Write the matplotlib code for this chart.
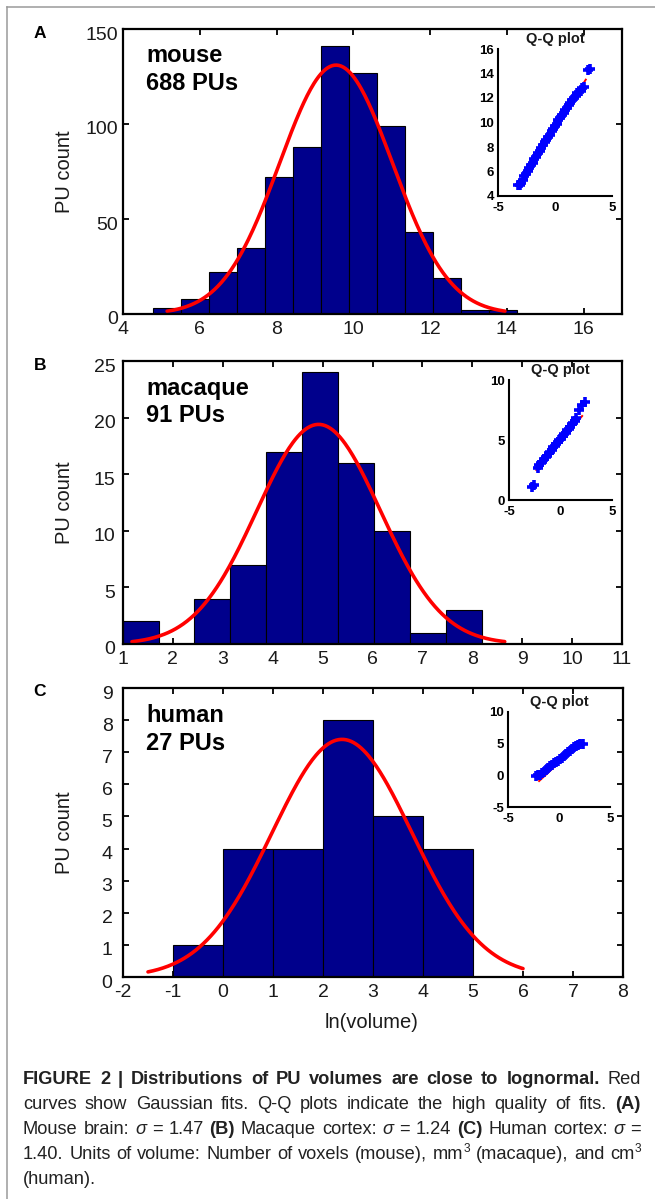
import matplotlib
matplotlib.use('Agg')
import matplotlib.pyplot as plt
import matplotlib.transforms as mtransforms
from matplotlib.lines import Line2D
import numpy as np
import logging
logging.getLogger('matplotlib.font_manager').setLevel(logging.ERROR)

W, H = 655, 1199
plt.rcParams['font.family'] = ['Liberation Sans', 'DejaVu Sans']
plt.rcParams['axes.unicode_minus'] = False

# ---------------- data ----------------
mouse_edges = [4.77, 5.50, 6.23, 6.96, 7.69, 8.42, 9.15, 9.88, 10.61, 11.34, 12.07, 12.80, 13.53, 14.26]
mouse_counts = [3, 8, 22, 35, 72, 88, 141, 127, 99, 43, 19, 2, 2]
macaque_edges = [1.0, 1.72, 2.43, 3.15, 3.87, 4.59, 5.31, 6.03, 6.75, 7.47, 8.19]
macaque_counts = [2, 0, 4, 7, 17, 24, 16, 10, 1, 3]
human_edges = [-1, 0, 1, 2, 3, 4, 5]
human_counts = [1, 4, 4, 8, 5, 4]

# Gaussian fits: mean, sigma, peak height, x-range of drawn curve
mouse_fit = dict(mu=9.55, sigma=1.47, peak=131, xmin=5.15, xmax=13.95)
macaque_fit = dict(mu=4.92, sigma=1.24, peak=19.4, xmin=1.18, xmax=8.65)
human_fit = dict(mu=2.38, sigma=1.40, peak=7.4, xmin=-1.5, xmax=6.0)

mouse_xticks = [4, 6, 8, 10, 12, 14, 16]
mouse_yticks = [0, 50, 100, 150]
macaque_xticks = list(range(1, 12))
macaque_yticks = [0, 5, 10, 15, 20, 25]
human_xticks = list(range(-2, 9))
human_yticks = list(range(0, 10))

species_names = ['mouse', 'macaque', 'human']
species_counts = ['688 PUs', '91 PUs', '27 PUs']
panel_letters = ['A', 'B', 'C']

# Q-Q plot points (theoretical quantile, sample quantile)
qq_mouse_x = [-3.25, -3.05, -2.95, -2.85, -2.7, -2.55, -2.4, -2.25, -2.1, -1.95,
              -1.8, -1.65, -1.5, -1.35, -1.2, -1.05, -0.9, -0.75, -0.6, -0.45,
              -0.3, -0.15, 0.0, 0.15, 0.3, 0.45, 0.6, 0.75, 0.9, 1.05,
              1.2, 1.35, 1.5, 1.65, 1.8, 1.95, 2.1, 2.25, 2.4, 2.5, 2.9, 3.05]
qq_mouse_y = [4.9, 4.9, 5.1, 5.3, 5.6, 5.8, 6.0, 6.3, 6.5, 6.7,
              7.0, 7.2, 7.5, 7.7, 7.9, 8.2, 8.4, 8.6, 8.8, 9.0,
              9.3, 9.5, 9.7, 9.9, 10.2, 10.4, 10.6, 10.8, 11.0, 11.2,
              11.4, 11.6, 11.8, 12.0, 12.2, 12.4, 12.5, 12.6, 12.8, 12.9, 14.3, 14.4]
qq_mouse_ref_x = [-3.1, 2.7]
qq_mouse_ref_y = [5.0, 13.5]

qq_macaque_x = [-2.75, -2.55, -2.2, -2.05, -1.9, -1.75, -1.6, -1.45, -1.3, -1.15,
                -1.0, -0.85, -0.7, -0.55, -0.4, -0.25, -0.1, 0.05, 0.2, 0.35,
                0.5, 0.65, 0.8, 0.95, 1.1, 1.25, 1.4, 1.55, 1.75, 2.05, 2.35]
qq_macaque_y = [1.1, 1.25, 2.7, 2.9, 3.1, 3.2, 3.4, 3.6, 3.7, 3.9,
                4.0, 4.2, 4.4, 4.5, 4.7, 4.8, 5.0, 5.1, 5.3, 5.5,
                5.6, 5.8, 5.9, 6.1, 6.3, 6.4, 6.6, 6.8, 7.5, 7.9, 8.2]
qq_macaque_ref_x = [-2.35, 2.1]
qq_macaque_ref_y = [2.5, 7.0]

qq_human_x = [-2.3, -2.1, -1.9, -1.7, -1.5, -1.3, -1.1, -0.9, -0.7, -0.5, -0.3, -0.1,
              0.1, 0.3, 0.5, 0.7, 0.9, 1.1, 1.3, 1.5, 1.7, 1.9, 2.1, 2.35]
qq_human_y = [-0.1, 0.0, 0.1, 0.3, 0.5, 0.8, 1.1, 1.4, 1.6, 1.9, 2.1, 2.3,
              2.6, 2.8, 3.1, 3.4, 3.7, 3.9, 4.2, 4.4, 4.6, 4.8, 4.9, 5.0]
qq_human_ref_x = [-1.95, 2.25]
qq_human_ref_y = [-0.9, 5.4]

qq_yticks = [[4, 6, 8, 10, 12, 14, 16], [0, 5, 10], [-5, 0, 5, 10]]
qq_ylims = [(4, 16), (0, 10), (-5, 10)]
qq_xticks = [-5, 0, 5]

caption_lines = [
    "**FIGURE 2 | Distributions of PU volumes are close to lognormal.** Red",
    "curves show Gaussian fits. Q-Q plots indicate the high quality of fits. **(A)**",
    "Mouse brain: _σ_ = 1.47 **(B)** Macaque cortex: _σ_ = 1.24 **(C)** Human cortex: _σ_ =",
    "1.40. Units of volume: Number of voxels (mouse), mm^3 (macaque), and cm^3",
    "(human).",
]

# ---------------- layout (pixels) ----------------
main_boxes = [(123, 29, 622, 314), (123, 361, 622, 644), (123, 688, 623, 977)]
inset_boxes = [(498, 49, 612, 196), (509, 380, 612, 500), (508, 712, 610, 807)]
xlims = [(4, 17), (1, 11), (-2, 8)]
ylims = [(0, 150), (0, 25), (0, 9)]
ypads = [3.5, 5.5, 7.5]

NAVY = '#00008C'
RED = '#FF0000'
BLUE = '#0000FF'
TXT = '#1a1a1a'

fig = plt.figure(figsize=(W / 100, H / 100), dpi=100)


def rect(box):
    l, t, r, b = box
    return [l / W, 1 - b / H, (r - l) / W, (b - t) / H]


# frame lines
fig.add_artist(Line2D([7 / W, 7 / W], [0, 1 - 7 / H], transform=fig.transFigure,
                      color='#9a9a9a', lw=1.1))
fig.add_artist(Line2D([7 / W, 1], [1 - 7 / H, 1 - 7 / H], transform=fig.transFigure,
                      color='#9a9a9a', lw=1.1))

edges_all = [mouse_edges, macaque_edges, human_edges]
counts_all = [mouse_counts, macaque_counts, human_counts]
fits = [mouse_fit, macaque_fit, human_fit]
xt_all = [mouse_xticks, macaque_xticks, human_xticks]
yt_all = [mouse_yticks, macaque_yticks, human_yticks]
qq_all = [(qq_mouse_x, qq_mouse_y, qq_mouse_ref_x, qq_mouse_ref_y),
          (qq_macaque_x, qq_macaque_y, qq_macaque_ref_x, qq_macaque_ref_y),
          (qq_human_x, qq_human_y, qq_human_ref_x, qq_human_ref_y)]

ylab_shift = mtransforms.ScaledTranslation(0, -4 / 100, fig.dpi_scale_trans)

for i in range(3):
    box = main_boxes[i]
    ax = fig.add_axes(rect(box))
    e = np.array(edges_all[i], dtype=float)
    ax.bar(e[:-1], counts_all[i], width=np.diff(e), align='edge',
           color=NAVY, edgecolor='black', linewidth=0.8, zorder=2)
    f = fits[i]
    xs = np.linspace(f['xmin'], f['xmax'], 300)
    ys = f['peak'] * np.exp(-(xs - f['mu']) ** 2 / (2 * f['sigma'] ** 2))
    ax.plot(xs, ys, color=RED, lw=2.6, zorder=3, solid_capstyle='round')
    ax.set_xlim(*xlims[i])
    ax.set_ylim(*ylims[i])
    ax.set_xticks(xt_all[i])
    ax.set_yticks(yt_all[i])
    for s in ax.spines.values():
        s.set_linewidth(1.6)
        s.set_zorder(4)
    ax.tick_params(direction='in', top=True, right=True, length=4, width=1.3,
                   labelsize=14, labelcolor=TXT)
    ax.tick_params(axis='x', pad=5)
    ax.tick_params(axis='y', pad=ypads[i])
    for lab in ax.get_yticklabels():
        lab.set_transform(lab.get_transform() + ylab_shift)

    l, t, r, b = box
    # panel letter
    fig.text(40 / W, 1 - (t + 4) / H, panel_letters[i], fontsize=12.5, fontweight='bold',
             ha='center', va='center', color='black')
    # y label
    fig.text(64 / W, 1 - ((t + b) / 2) / H, 'PU count', rotation=90, fontsize=14.5,
             ha='center', va='center', color=TXT)
    # species label
    fig.text(146 / W, 1 - (t + 27) / H, species_names[i], fontsize=17, fontweight='bold',
             ha='left', va='center', color='black')
    fig.text(146 / W, 1 - (t + 55) / H, species_counts[i], fontsize=17, fontweight='bold',
             ha='left', va='center', color='black')

    # inset Q-Q plot
    ib = inset_boxes[i]
    ia = fig.add_axes(rect(ib))
    ia.set_facecolor('none')
    qx, qy, rx, ry = qq_all[i]
    ia.plot(rx, ry, color=RED, lw=1.4, zorder=2)
    ia.plot(qx, qy, linestyle='none', marker='+', ms=7, mew=2.6, color=BLUE, zorder=3)
    ia.set_xlim(-5, 5)
    ia.set_ylim(*qq_ylims[i])
    ia.set_xticks(qq_xticks)
    ia.set_yticks(qq_yticks[i])
    ia.spines['top'].set_visible(False)
    ia.spines['right'].set_visible(False)
    for s in ('left', 'bottom'):
        ia.spines[s].set_linewidth(1.5)
    ia.tick_params(length=0, labelsize=9.5)
    ia.tick_params(axis='x', pad=4.5)
    ia.tick_params(axis='y', pad=3)
    for lab in ia.get_xticklabels() + ia.get_yticklabels():
        lab.set_fontweight('bold')
    fig.text(((ib[0] + ib[2]) / 2) / W, 1 - (ib[1] - 10) / H, 'Q-Q plot', fontsize=10.5,
             fontweight='bold', ha='center', va='center', color=TXT)

# x label
fig.text(372 / W, 1 - 1023 / H, 'ln(volume)', fontsize=14.5, ha='center', va='center',
         color=TXT)

# ---------------- caption ----------------
renderer = fig.canvas.get_renderer()
CAP_FAMILY = ['Liberation Sans Narrow', 'Liberation Sans']


def parse(line):
    words, cur, buf = [], [], ''
    bold = ital = False
    i = 0

    def flush():
        nonlocal buf
        if buf:
            cur.append((buf, bold, ital, False))
            buf = ''
    while i < len(line):
        if line.startswith('**', i):
            flush(); bold = not bold; i += 2; continue
        c = line[i]
        if c == '_':
            flush(); ital = not ital; i += 1; continue
        if c == '^':
            flush(); cur.append((line[i + 1], bold, ital, True)); i += 2; continue
        if c == ' ':
            flush()
            if cur:
                words.append(cur); cur = []
            i += 1; continue
        buf += c; i += 1
    flush()
    if cur:
        words.append(cur)
    return words


def seg_width(seg, size):
    txt, bold, ital, sup = seg
    t = fig.text(0, 0, txt, fontsize=size * (0.65 if sup else 1), family=CAP_FAMILY,
                 fontweight='bold' if bold else 'normal',
                 style='italic' if ital else 'normal')
    w = t.get_window_extent(renderer).width
    t.remove()
    return w


parsed = [parse(l) for l in caption_lines]
base = 10.0
tmp = fig.text(0, 0, 'a a', fontsize=base, family=CAP_FAMILY)
tmp2 = fig.text(0, 0, 'aa', fontsize=base, family=CAP_FAMILY)
space_base = tmp.get_window_extent(renderer).width - tmp2.get_window_extent(renderer).width
tmp.remove(); tmp2.remove()
nat = []
for words in parsed[:4]:
    ww = sum(seg_width(s, base) for w in words for s in w)
    nat.append(ww + space_base * (len(words) - 1))
X0, X1 = 23, 641
cap_size = base * (X1 - X0 - 6) / max(nat)
space = space_base * cap_size / base

baselines = [1084, 1109, 1134, 1159, 1184]
for li, words in enumerate(parsed):
    widths = [[seg_width(s, cap_size) for s in w] for w in words]
    total = sum(sum(w) for w in widths)
    if li < 4 and len(words) > 1:
        gap = (X1 - X0 - total) / (len(words) - 1)
    else:
        gap = space
    x = X0
    yb = baselines[li]
    for w, ws in zip(words, widths):
        for seg, sw in zip(w, ws):
            txt, bold, ital, sup = seg
            fig.text(x / W, 1 - (yb - (7 if sup else 0)) / H, txt,
                     fontsize=cap_size * (0.65 if sup else 1), family=CAP_FAMILY,
                     fontweight='bold' if bold else 'normal',
                     style='italic' if ital else 'normal',
                     ha='left', va='baseline', color='#222222')
            x += sw
        x += gap

fig.savefig('out.png', dpi=100)
